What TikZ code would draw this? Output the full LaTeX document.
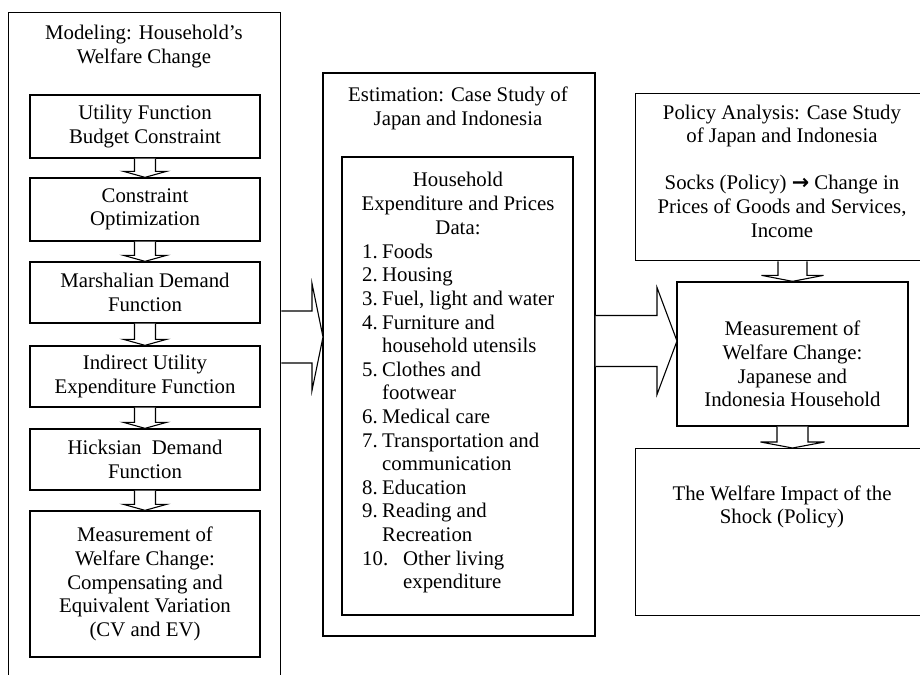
\documentclass[tikz,border=0pt]{standalone}
\usepackage{fontspec}
\setmainfont{Liberation Serif}
\newfontfamily\symf{DejaVu Sans}
\usetikzlibrary{calc}
\tikzset{
  box/.style={draw, line width=1.3pt, inner sep=0pt, align=center, font=\fontsize{20.8}{23.6}\selectfont},
  txt/.style={inner sep=0pt, align=center, font=\fontsize{20.8}{23.6}\selectfont},
  barrow/.style={draw, line width=1.1pt, fill=white, line join=miter},
}
% vertical block arrow: start, end, half shaft, half head, head length
\newcommand\bdarrow[5]{\draw[barrow] let \p1=(#1), \p2=(#2) in
  (\x2-#3pt,\y1) -- (\x2-#3pt,\y2+#5pt) -- (\x2-#4pt,\y2+#5pt) -- (\x2,\y2)
  -- (\x2+#4pt,\y2+#5pt) -- (\x2+#3pt,\y2+#5pt) -- (\x2+#3pt,\y1);}
% horizontal block arrow
\newcommand\brarrow[5]{\draw[barrow] let \p1=(#1), \p2=(#2) in
  (\x1,\y2+#3pt) -- (\x2-#5pt,\y2+#3pt) -- (\x2-#5pt,\y2+#4pt) -- (\x2,\y2)
  -- (\x2-#5pt,\y2-#4pt) -- (\x2-#5pt,\y2-#3pt) -- (\x1,\y2-#3pt);}
\newcommand\lnum[1]{\makebox[20pt][l]{#1}}
\begin{document}
\begin{tikzpicture}[x=1pt,y=-1pt]
\useasboundingbox (0,0) rectangle (920,674);
\fill[white] (0,0) rectangle (920,674);

% left column
\node[box, minimum width=272pt, minimum height=720pt, anchor=north west] (model) at (8,12) {};
\node[txt] (modelt) at (144,46.5) {Modeling: Household’s\\Welfare Change};
\node[box, minimum width=230pt, minimum height=63pt] (b1) at (145,126.5) {Utility Function\\Budget Constraint};
\node[box, minimum width=230pt, minimum height=63pt] (b2) at (145,209.5) {Constraint\\Optimization};
\node[box, minimum width=230pt, minimum height=61pt] (b3) at (145,292.5) {Marshalian Demand\\Function};
\node[box, minimum width=230pt, minimum height=61pt] (b4) at (145,376.5) {Indirect Utility\\Expenditure Function};
\node[box, minimum width=230pt, minimum height=61pt] (b5) at (145,459.5) {Hicksian\ \ Demand\\Function};
\node[box, minimum width=230pt, minimum height=146pt] (b6) at (145,584) {Measurement of\\Welfare Change:\\Compensating and\\Equivalent Variation\\(CV and EV)};
\bdarrow{b1.south}{b2.north}{10.5}{21.5}{6}
\bdarrow{b2.south}{b3.north}{10.5}{21.5}{6}
\bdarrow{b3.south}{b4.north}{10.5}{21.5}{6}
\bdarrow{b4.south}{b5.north}{10.5}{21.5}{6}
\bdarrow{b5.south}{b6.north}{10.5}{21.5}{6}

% middle column
\node[box, minimum width=272pt, minimum height=563pt] (mid) at (459,354.5) {};
\node[txt] (midt) at (458,108.5) {Estimation: Case Study of\\Japan and Indonesia};
\node[box, minimum width=231pt, minimum height=458pt] (data) at (457.5,386) {};
\node[txt] (datah) at (458,203.5) {Household\\Expenditure and Prices\\Data:};
\node[txt, align=left, anchor=west] (datal) at (362,418.5) {%
\lnum{1.}Foods\\
\lnum{2.}Housing\\
\lnum{3.}Fuel, light and water\\
\lnum{4.}Furniture and\\
\hspace*{20pt}household utensils\\
\lnum{5.}Clothes and\\
\hspace*{20pt}footwear\\
\lnum{6.}Medical care\\
\lnum{7.}Transportation and\\
\hspace*{20pt}communication\\
\lnum{8.}Education\\
\lnum{9.}Reading and\\
\hspace*{20pt}Recreation\\
\makebox[41pt][l]{10.}Other living\\
\hspace*{41pt}expenditure};

% right column
\node[box, minimum width=294pt, minimum height=167pt, anchor=north west] (policy) at (635,93) {};
\node[txt] (policyt) at (782,171) {Policy Analysis: Case Study\\of Japan and Indonesia\\[23.6pt]Socks (Policy) {\symf\bfseries →} Change in\\Prices of Goods and Services,\\Income};
\node[box, minimum width=231pt, minimum height=144pt] (meas) at (792.5,354) {};
\node[txt] (meast) at (792.5,364) {Measurement of\\Welfare Change:\\Japanese and\\Indonesia Household};
\node[box, minimum width=294pt, minimum height=167pt, anchor=north west] (last) at (635,448) {};
\node[txt] (lastt) at (782,507) {The Welfare Impact of the\\Shock (Policy)};
\bdarrow{policy.south}{meas.north}{14.5}{31}{6}
\bdarrow{meas.south}{meas.south |- last.north}{15.5}{32}{6}

% big arrows
\coordinate (a1t) at (323,337);
\coordinate (a2t) at (677,341);
\brarrow{model.east |- a1t}{a1t}{26}{53.5}{11}
\brarrow{mid.east |- a2t}{a2t}{25.5}{53.5}{20}
\end{tikzpicture}
\end{document}
